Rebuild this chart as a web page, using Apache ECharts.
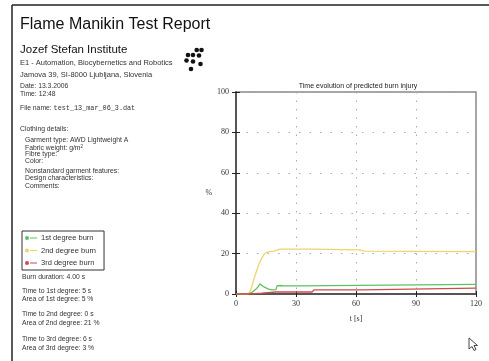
<!DOCTYPE html>
<html><head><meta charset="utf-8">
<script src="https://cdn.jsdelivr.net/npm/echarts@6/dist/echarts.min.js"></script>
<style>html,body{margin:0;padding:0;background:#fff}#c{width:489px;height:361px}</style>
</head><body><div id="c"></div>
<script>
// ---- data ----
const seriesNames = ['1st degree burn', '2nd degree burn', '3rd degree burn'];
const firstDegree = [[0,0],[6,0],[7,0.3],[8,0.8],[9,1.5],[10,2.5],[11,3.5],[12,5],[12.5,5.3],[13,4.5],[14,3.5],[15,4],[16,2.5],[17,3],[18,2],[19,2.5],[20,2.2],[20.5,4],[21,3.8],[22,4.2],[23,3.8],[24,4],[32,4],[33,4.8],[120,4.8]];
const secondDegree = [[0,0],[6,0],[7,1],[8,4],[9,7.5],[10,10.5],[11,13.5],[12,16],[13,18],[14,19.5],[15,20.5],[16,21],[17,21],[18,20.8],[19,21.2],[20,21.8],[22,22.2],[38,22.2],[39,21.8],[62,21.8],[64,21.2],[120,21]];
const thirdDegree = [[0,0],[7,0],[8,0.3],[13,0.4],[20,1],[38,1],[39,2],[63,2],[64,2.9],[120,2.9]];
const xTicks = [0, 30, 60, 90, 120];
const yTicks = [0, 20, 40, 60, 80, 100];

const headerLines = [
  ['Flame Manikin Test Report', 20, 25, 16],
  ['Jozef Stefan Institute', 20, 50, 11.5],
  ['E1 - Automation, Biocybernetics and Robotics', 20, 62.5, 7.5],
  ['Jamova 39, SI-8000 Ljubljana, Slovenia', 20, 75, 7.5],
  ['Date: 13.3.2006', 20, 86.5, 6.8],
  ['Time: 12:48', 20, 94.3, 6.8],
  ['Clothing details:', 20, 129, 6.8],
  ['Garment type: AWD Lightweight A', 25, 140, 6.8],
  ['Fibre type:', 25, 154.3, 6.8],
  ['Color:', 25, 161, 6.8],
  ['Nonstandard garment features:', 25, 171, 6.8],
  ['Design characteristics:', 25, 178.3, 6.8],
  ['Comments:', 25, 186, 6.8],
  ['Burn duration: 4.00 s', 22, 276.7, 6.8],
  ['Time to 1st degree: 5 s', 22, 291, 6.8],
  ['Area of 1st degree: 5 %', 22, 299, 6.8],
  ['Time to 2nd degree: 0 s', 22, 314.3, 6.8],
  ['Area of 2nd degree: 21 %', 22, 323.3, 6.8],
  ['Time to 3rd degree: 6 s', 22, 339, 6.8],
  ['Area of 3rd degree: 3 %', 22, 347.7, 6.8]
];
const logoDots = [[196.7,50],[201.5,50],[188,55],[193,55],[199,55.5],[186.5,60.5],[193,61.5],[200.5,64],[191,69]];

const chart = echarts.init(document.getElementById('c'), null, {renderer:'canvas'});
const graphics = [];
graphics.push({type:'line', shape:{x1:12,y1:5,x2:489,y2:5}, style:{stroke:'#222', lineWidth:1.5}, silent:true});
graphics.push({type:'line', shape:{x1:12,y1:5,x2:12,y2:361}, style:{stroke:'#222', lineWidth:1.5}, silent:true});
headerLines.forEach(l => graphics.push({type:'text', x:l[1], y:l[2], style:{text:l[0], fontSize:l[3], fontFamily:'Liberation Sans, Arial, sans-serif', fill: l[3]>=11 ? '#111' : '#333', textVerticalAlign:'middle', textAlign:'left'}, silent:true}));
graphics.push({type:'text', x:20, y:147.7, style:{rich:{a:{fontSize:6.8,fontFamily:'Liberation Sans',fill:'#333'},s:{fontSize:4.5,fontFamily:'Liberation Sans',fill:'#333',verticalAlign:'top'}}, text:'{a|Fabric weight: g/m}{s|2}', x:5, textVerticalAlign:'middle'}, silent:true});
graphics.push({type:'text', x:20, y:108.3, style:{rich:{a:{fontSize:6.8,fontFamily:'Liberation Sans',fill:'#333'},m:{fontSize:6.8,fontFamily:'Liberation Mono, DejaVu Sans Mono, monospace',fill:'#333'}}, text:'{a|File name: }{m|test_13_mar_06_3.dat}', textVerticalAlign:'middle'}, silent:true});
logoDots.forEach(d => graphics.push({type:'circle', shape:{cx:d[0], cy:d[1], r:2.3}, style:{fill:'#111'}, silent:true}));
graphics.push({type:'polygon', x:469, y:338, shape:{points:[[0,0],[0,11],[3,8.5],[5,12.5],[7,11.5],[5,7.5],[8.5,7.5]]}, style:{fill:'#fff', stroke:'#444', lineWidth:1}, silent:true});

const iconPath = 'path://M0,2a2,2 0 1,0 4,0a2,2 0 1,0 -4,0z M5,1.5L12,1.5L12,2.5L5,2.5z';
const colors = ['#62bf62', '#ecd56a', '#cf4a4a'];
const axisTxt = {fontFamily:'Liberation Serif, Times New Roman, serif', fontSize:8, color:'#333'};

const yBase = {type:'value', min:0, max:100, interval:20, position:'left'};
const xBase = {type:'value', min:0, max:120, interval:30, position:'bottom'};

chart.setOption({
  animation:false,
  title:{text:'Time evolution of predicted burn injury', left:353, top:78, textAlign:'center',
    textStyle:{fontSize:7, fontWeight:'normal', color:'#222', fontFamily:'Liberation Sans, Arial, sans-serif'}},
  grid:{left:236, right:13, top:92, bottom:67, show:true, borderColor:'#888', borderWidth:1.5, backgroundColor:'transparent'},
  legend:{orient:'vertical', left:22, top:231, data:seriesNames, icon:iconPath, itemWidth:12, itemHeight:6, itemGap:4.5,
    padding:[3,8,3,3], borderColor:'#333', borderWidth:1, borderRadius:0,
    textStyle:{fontSize:7.5, color:'#333', fontFamily:'Liberation Sans, Arial, sans-serif', padding:[0,0,0,-1]}},
  xAxis:[
    Object.assign({}, xBase, {name:'t [s]', nameLocation:'middle', nameGap:21, nameTextStyle:axisTxt,
      axisLine:{show:true, lineStyle:{color:'#555', width:2}}, axisTick:{show:true, inside:false, length:3, lineStyle:{color:'#222', width:1}},
      axisLabel:Object.assign({margin:6, formatter: v => xTicks.includes(v) ? String(v) : ''}, axisTxt),
      splitLine:{show:true, lineStyle:{color:'#aaa', type:[1.5,7], width:1}}}),
    Object.assign({}, xBase, {axisLine:{show:false}, axisTick:{show:true, inside:true, length:3, lineStyle:{color:'#222', width:1}}, axisLabel:{show:false}, splitLine:{show:false}})
  ],
  yAxis:[
    Object.assign({}, yBase, {name:'%', nameLocation:'middle', nameGap:22, nameRotate:0, nameTextStyle:axisTxt,
      axisLine:{show:true, lineStyle:{color:'#555', width:2}}, axisTick:{show:true, inside:false, length:4, lineStyle:{color:'#222', width:1}},
      axisLabel:Object.assign({margin:7, formatter: v => yTicks.includes(v) ? String(v) : ''}, axisTxt),
      splitLine:{show:true, lineStyle:{color:'#aaa', type:[1.5,9], width:1}}}),
    Object.assign({}, yBase, {axisLine:{show:false}, axisTick:{show:true, inside:true, length:4, lineStyle:{color:'#222', width:1}}, axisLabel:{show:false}, splitLine:{show:false}})
  ],
  series:[
    {name:seriesNames[0], type:'line', data:firstDegree, color:colors[0], showSymbol:false, lineStyle:{width:1.3}, z:3},
    {name:seriesNames[1], type:'line', data:secondDegree, color:colors[1], showSymbol:false, lineStyle:{width:1.3}, z:2},
    {name:seriesNames[2], type:'line', data:thirdDegree, color:colors[2], showSymbol:false, lineStyle:{width:1.3}, z:4}
  ],
  graphic:graphics
});
</script></body></html>
